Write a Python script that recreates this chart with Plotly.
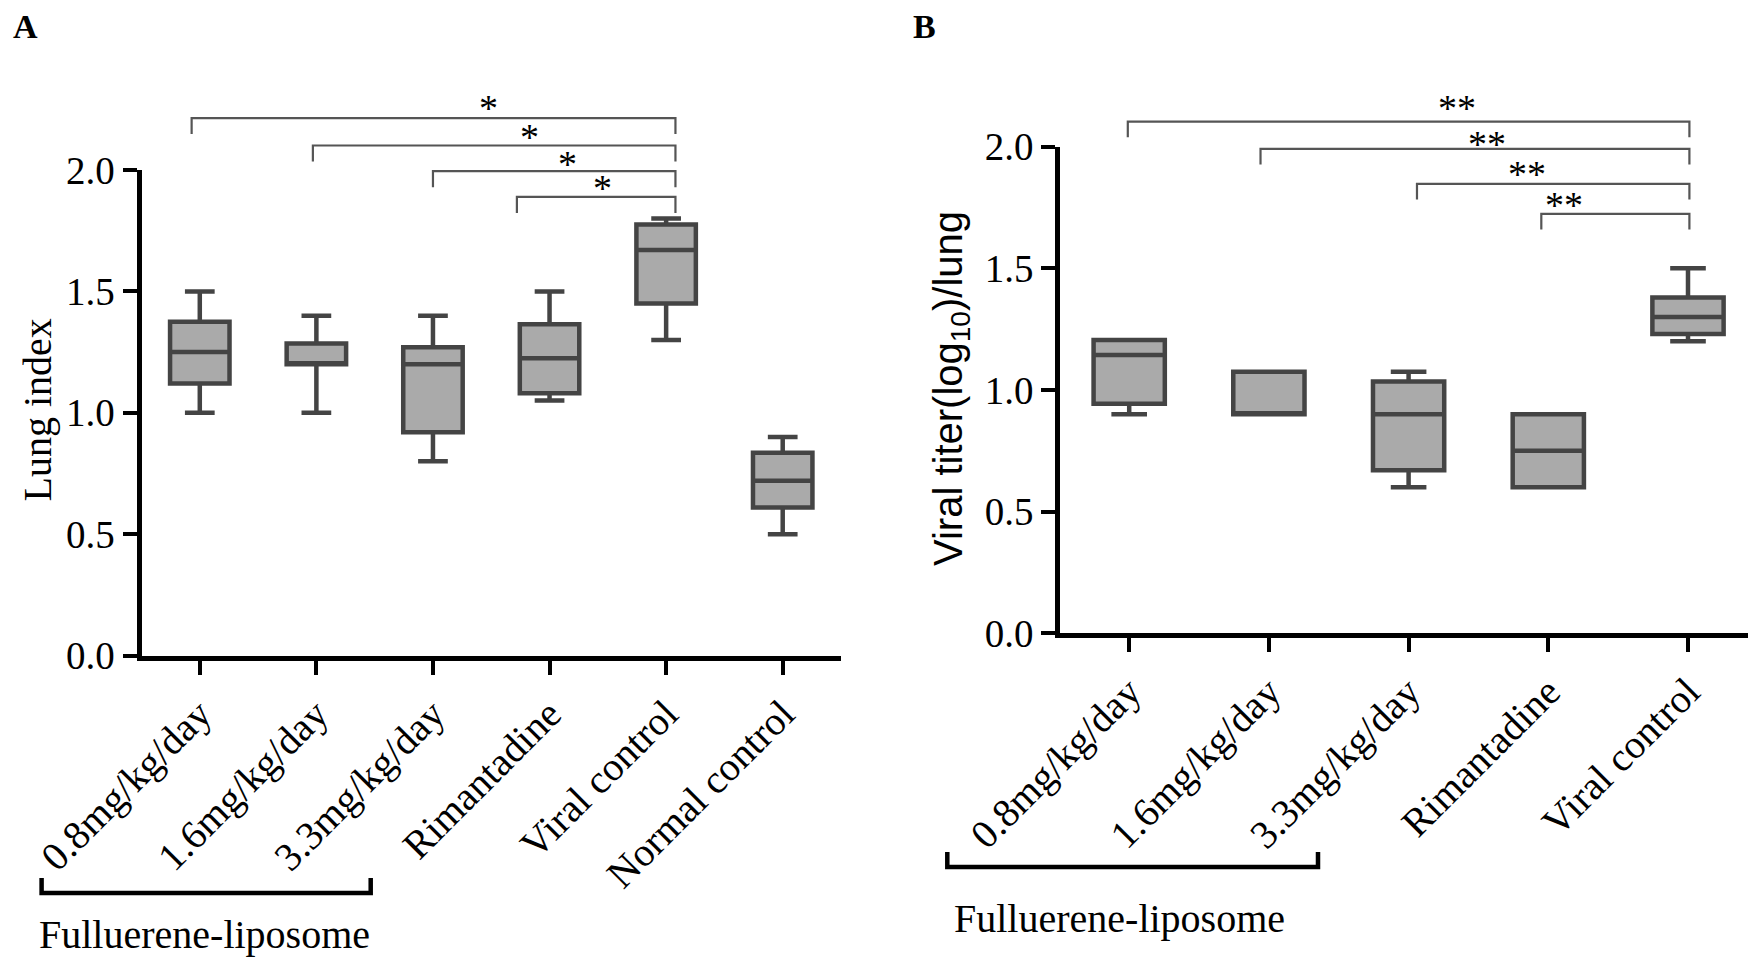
import plotly.graph_objects as go

W, H = 1748, 957

# ---- Panel A: lung index ----
groups_a = ["0.8mg/kg/day", "1.6mg/kg/day", "3.3mg/kg/day",
            "Rimantadine", "Viral control", "Normal control"]
lower_a = [1.00, 1.00, 0.80, 1.05, 1.30, 0.50]
q1_a = [1.12, 1.20, 0.92, 1.08, 1.45, 0.61]
median_a = [1.25, 1.20, 1.20, 1.225, 1.67, 0.72]
q3_a = [1.375, 1.285, 1.27, 1.365, 1.775, 0.835]
upper_a = [1.50, 1.40, 1.40, 1.50, 1.80, 0.90]

# significance brackets (x in category units, heights in axis units)
sig_left_a = [-0.07, 0.97, 2.00, 2.72]
sig_right_a = [4.08, 4.08, 4.08, 4.08]
sig_level_a = [2.214, 2.101, 1.995, 1.889]
star_x_a = [2.475, 2.832, 3.156, 3.456]
star_y_a = [2.266, 2.149, 2.037, 1.937]
star_text_a = ["*", "*", "*", "*"]

# ---- Panel B: viral titer ----
groups_b = ["0.8mg/kg/day", "1.6mg/kg/day", "3.3mg/kg/day",
            "Rimantadine", "Viral control"]
lower_b = [0.90, 0.90, 0.60, 0.60, 1.20]
q1_b = [0.943, 0.90, 0.67, 0.60, 1.23]
median_b = [1.144, 0.90, 0.90, 0.75, 1.30]
q3_b = [1.205, 1.075, 1.035, 0.90, 1.38]
upper_b = [1.205, 1.075, 1.075, 0.90, 1.50]

sig_left_b = [-0.01, 0.94, 2.06, 2.95]
sig_right_b = [4.01, 4.01, 4.01, 4.01]
sig_level_b = [2.103, 1.991, 1.847, 1.724]
star_x_b = [2.349, 2.563, 2.845, 3.115]
star_y_b = [2.175, 2.027, 1.904, 1.778]
star_text_b = ["**", "**", "**", "**"]

y_ticks = [0.0, 0.5, 1.0, 1.5, 2.0]

SERIF = "Liberation Serif"
SANS = "Liberation Sans"
BOX_FILL = "#aaaaaa"
BOX_LINE = "#444444"
SIG_LINE = "#555555"


def px_x(p):
    return p / W


def px_y(p):
    return 1 - p / H


def bracket_path(lefts, rights, levels, drop):
    xs, ys = [], []
    for l, r, lv in zip(lefts, rights, levels):
        xs += [l, l, r, r, None]
        ys += [lv - drop, lv, lv, lv - drop, None]
    return xs, ys


fig = go.Figure()

# boxes
fig.add_trace(go.Box(
    x=list(range(len(groups_a))), q1=q1_a, median=median_a, q3=q3_a,
    lowerfence=lower_a, upperfence=upper_a,
    width=0.51, whiskerwidth=0.5, fillcolor=BOX_FILL,
    line=dict(color=BOX_LINE, width=4.5), boxpoints=False,
    xaxis="x", yaxis="y", showlegend=False, hoverinfo="skip",
))
fig.add_trace(go.Box(
    x=list(range(len(groups_b))), q1=q1_b, median=median_b, q3=q3_b,
    lowerfence=lower_b, upperfence=upper_b,
    width=0.51, whiskerwidth=0.5, fillcolor=BOX_FILL,
    line=dict(color=BOX_LINE, width=4.5), boxpoints=False,
    xaxis="x2", yaxis="y2", showlegend=False, hoverinfo="skip",
))

# significance brackets on overlay axes with taller range
bx, by = bracket_path(sig_left_a, sig_right_a, sig_level_a, 0.066)
fig.add_trace(go.Scatter(x=bx, y=by, mode="lines", xaxis="x3", yaxis="y3",
                         line=dict(color=SIG_LINE, width=2.2),
                         showlegend=False, hoverinfo="skip"))
bx, by = bracket_path(sig_left_b, sig_right_b, sig_level_b, 0.064)
fig.add_trace(go.Scatter(x=bx, y=by, mode="lines", xaxis="x4", yaxis="y4",
                         line=dict(color=SIG_LINE, width=2.2),
                         showlegend=False, hoverinfo="skip"))

# layout geometry (pixels)
a_left, a_right, a_zero, a_top = 141.5, 841.0, 655.5, 170.0
b_left, b_right, b_zero, b_top = 1060.4, 1748.0, 633.3, 146.7
a_scale = (a_zero - a_top) / 2.0
b_scale = (b_zero - b_top) / 2.0
b_step = 139.7

axis_common = dict(showgrid=False, zeroline=False, showline=True,
                   linecolor="black", linewidth=5, ticks="outside",
                   ticklen=14, tickwidth=4, tickcolor="black",
                   automargin=False,
                   tickfont=dict(family=SERIF, size=39, color="black"))
cat_font = dict(family=SERIF, size=40, color="black")
hidden = dict(visible=False, automargin=False)

xa_range = [-0.5, len(groups_a) - 0.5]
xb_range = [-(1129.2 - b_left) / b_step, (b_right - 1129.2) / b_step]

fig.update_layout(
    width=W, height=H,
    margin=dict(l=0, r=0, t=0, b=0, autoexpand=False),
    paper_bgcolor="white", plot_bgcolor="rgba(0,0,0,0)",
    showlegend=False,
    xaxis=dict(domain=[px_x(a_left), px_x(a_right)], range=xa_range,
               tickvals=list(range(len(groups_a))), ticktext=groups_a,
               tickangle=-45, anchor="y", **{**axis_common, "tickfont": cat_font}),
    yaxis=dict(domain=[px_y(a_zero), px_y(a_top)], range=[0, 2.0],
               tickvals=y_ticks, tickformat=".1f", anchor="x", **axis_common),
    xaxis2=dict(domain=[px_x(b_left), px_x(b_right)], range=xb_range,
                tickvals=list(range(len(groups_b))), ticktext=groups_b,
                tickangle=-45, anchor="y2", **{**axis_common, "tickfont": cat_font}),
    yaxis2=dict(domain=[px_y(b_zero), px_y(b_top)], range=[0, 2.0],
                tickvals=y_ticks, tickformat=".1f", anchor="x2", **axis_common),
    xaxis3=dict(domain=[px_x(a_left), px_x(a_right)], range=xa_range,
                anchor="y3", **hidden),
    yaxis3=dict(domain=[px_y(a_zero), 1.0], range=[0, a_zero / a_scale],
                anchor="x3", **hidden),
    xaxis4=dict(domain=[px_x(b_left), px_x(b_right)], range=xb_range,
                anchor="y4", **hidden),
    yaxis4=dict(domain=[px_y(b_zero), 1.0], range=[0, b_zero / b_scale],
                anchor="x4", **hidden),
)

# stars
for sx, sy, st in zip(star_x_a, star_y_a, star_text_a):
    fig.add_annotation(x=sx, y=sy, xref="x3", yref="y3", text=st,
                       showarrow=False, xanchor="center", yanchor="middle",
                       yshift=-3, font=dict(family=SERIF, size=38, color="black"))
for sx, sy, st in zip(star_x_b, star_y_b, star_text_b):
    fig.add_annotation(x=sx, y=sy, xref="x4", yref="y4", text=st,
                       showarrow=False, xanchor="center", yanchor="middle",
                       yshift=-4, font=dict(family=SERIF, size=38, color="black"))

# panel letters
fig.add_annotation(x=px_x(11), y=px_y(6), xref="paper", yref="paper", text="<b>A</b>",
                   showarrow=False, xanchor="left", yanchor="top",
                   font=dict(family=SERIF, size=34, color="black"))
fig.add_annotation(x=px_x(911), y=px_y(6), xref="paper", yref="paper", text="<b>B</b>",
                   showarrow=False, xanchor="left", yanchor="top",
                   font=dict(family=SERIF, size=34, color="black"))

# axis titles
fig.add_annotation(x=px_x(37.5), y=px_y(410), xref="paper", yref="paper",
                   text="Lung index", textangle=-90, showarrow=False,
                   xanchor="center", yanchor="middle",
                   font=dict(family=SERIF, size=40, color="black"))
fig.add_annotation(x=px_x(951), y=px_y(389), xref="paper", yref="paper",
                   text="Viral titer(log<sub>10</sub>)/lung", textangle=-90,
                   showarrow=False, xanchor="center", yanchor="middle",
                   font=dict(family=SANS, size=40, color="black"))

# group brackets for the fullerene-liposome doses
for x0, x1, ytop, yline in [(41.6, 370.7, 878, 893), (947.3, 1318, 852, 867)]:
    fig.add_shape(type="path", xref="paper", yref="paper",
                  path=f"M {px_x(x0)} {px_y(ytop)} L {px_x(x0)} {px_y(yline)} "
                       f"L {px_x(x1)} {px_y(yline)} L {px_x(x1)} {px_y(ytop)}",
                  line=dict(color="black", width=4.5))

fig.add_annotation(x=px_x(37), y=px_y(934), xref="paper", yref="paper",
                   text="Fulluerene-liposome", showarrow=False,
                   xanchor="left", yanchor="middle",
                   font=dict(family=SERIF, size=40, color="black"))
fig.add_annotation(x=px_x(952), y=px_y(918), xref="paper", yref="paper",
                   text="Fulluerene-liposome", showarrow=False,
                   xanchor="left", yanchor="middle",
                   font=dict(family=SERIF, size=40, color="black"))

# drop the default page margin so the figure sits at the window origin
fig.write_html("out.html", config={"displayModeBar": False},
               post_script="document.body.style.margin = '0';")
